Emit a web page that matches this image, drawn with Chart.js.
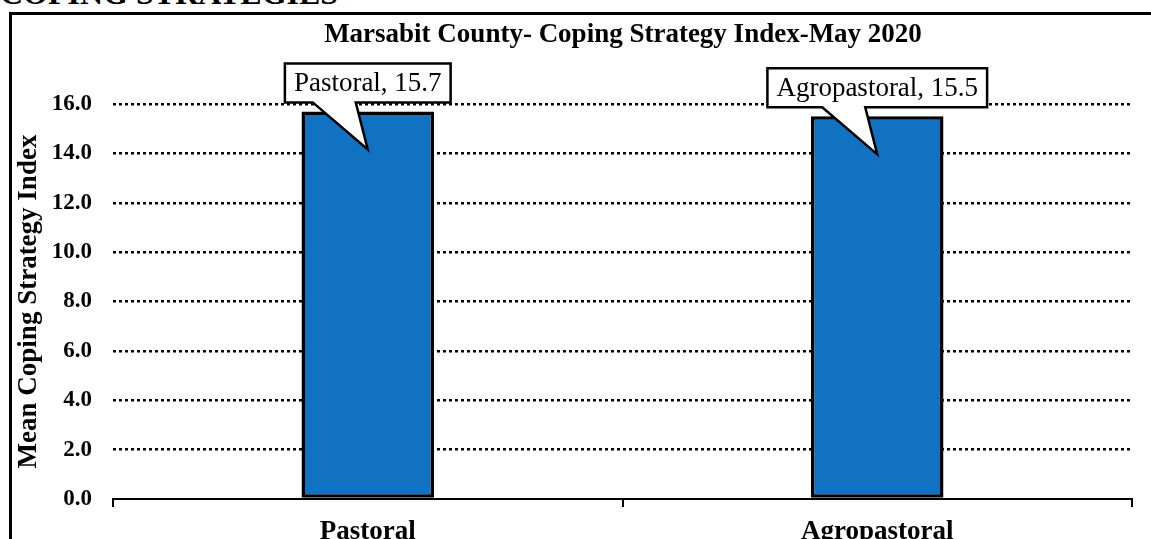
<!DOCTYPE html>
<html>
<head>
<meta charset="utf-8">
<script src="https://cdn.jsdelivr.net/npm/chart.js@4.4.1/dist/chart.umd.min.js"></script>
<style>
  body { margin: 0; background: #fff; overflow: hidden; }
  #heading {
    position: absolute; left: 0; top: -25px; margin: 0;
    font: bold 32px "Liberation Serif", "Times New Roman", serif; color: #000;
  }
  #frame {
    position: absolute; left: 9px; top: 12px; width: 1160px; height: 560px;
    border: 3px solid #000; box-sizing: border-box;
  }
  #wrap { position: absolute; left: 0; top: 0; width: 1151px; height: 539px; }
</style>
</head>
<body>
<div id="heading">COPING STRATEGIES</div>
<div id="frame"></div>
<div id="wrap"><canvas id="chart"></canvas></div>
<script>
const categories = ["Pastoral", "Agropastoral"];
const csiValues = [15.7, 15.5];
const yTicks = [0, 2, 4, 6, 8, 10, 12, 14, 16];

const serif = "'Liberation Serif', 'Times New Roman', serif";

// speech-bubble data labels above each bar
const calloutPlugin = {
  id: "callouts",
  afterDatasetsDraw(chart) {
    const ctx = chart.ctx;
    const meta = chart.getDatasetMeta(0);
    ctx.save();
    ctx.font = "27px " + serif;
    meta.data.forEach((bar, i) => {
      const text = categories[i] + ", " + csiValues[i].toFixed(1);
      const w = ctx.measureText(text).width + 18;
      const h = 39;
      const x = bar.x;
      const bottom = bar.y - 9;
      const left = x - w / 2;
      const top = bottom - h;
      const tipY = bar.y + 38;
      ctx.beginPath();
      ctx.moveTo(left, top);
      ctx.lineTo(left + w, top);
      ctx.lineTo(left + w, bottom);
      ctx.lineTo(x - 12, bottom);
      ctx.lineTo(x, tipY);
      ctx.lineTo(x - 55, bottom);
      ctx.lineTo(left, bottom);
      ctx.closePath();
      ctx.fillStyle = "#fff";
      ctx.fill();
      ctx.lineWidth = 2.5;
      ctx.strokeStyle = "#000";
      ctx.lineJoin = "miter";
      ctx.stroke();
      ctx.fillStyle = "#000";
      ctx.textAlign = "center";
      ctx.textBaseline = "middle";
      ctx.fillText(text, x, top + h / 2 + 1);
    });
    ctx.restore();
  }
};

// chart title drawn at a fixed spot
const titlePlugin = {
  id: "topTitle",
  afterDraw(chart) {
    const ctx = chart.ctx;
    ctx.save();
    ctx.font = "bold 27px " + serif;
    ctx.fillStyle = "#000";
    ctx.textAlign = "center";
    ctx.textBaseline = "middle";
    ctx.fillText("Marsabit County- Coping Strategy Index-May 2020", 623, 35);
    ctx.restore();
  }
};

new Chart(document.getElementById("chart"), {
  type: "bar",
  data: {
    labels: categories,
    datasets: [{
      data: csiValues,
      backgroundColor: "#1072C1",
      borderColor: "#000",
      borderWidth: 3.5,
      borderSkipped: false,
      barPercentage: 0.26,
      categoryPercentage: 1
    }]
  },
  options: {
    responsive: true,
    maintainAspectRatio: false,
    animation: false,
    layout: { padding: { top: 104, right: 19, left: 0, bottom: 0 } },
    plugins: {
      legend: { display: false },
      tooltip: { enabled: false },
      title: { display: false }
    },
    scales: {
      x: {
        afterFit: s => { s.height = 40; },
        border: { display: true, color: "#000", width: 2 },
        grid: { display: true, drawOnChartArea: false, drawTicks: true, tickLength: 8, color: "#000", lineWidth: 2, offset: true },
        ticks: { color: "#000", font: { family: serif, size: 27, weight: "bold" }, padding: 9 }
      },
      y: {
        min: 0,
        max: 16,
        afterFit: s => { s.width = 113; },
        afterBuildTicks: s => { s.ticks = yTicks.map(v => ({ value: v })); },
        border: { display: false, dash: [3, 3] },
        grid: {
          color: c => c.tick.value === 0 ? "rgba(0,0,0,0)" : "#000",
          lineWidth: 2.5,
          drawTicks: false
        },
        ticks: {
          color: "#000",
          padding: 21,
          font: { family: serif, size: 23, weight: "bold" },
          callback: v => Number(v).toFixed(1)
        },
        title: {
          display: true,
          text: "Mean Coping Strategy Index",
          color: "#000",
          font: { family: serif, size: 27, weight: "bold" },
          padding: { top: 13, bottom: 0 }
        }
      }
    }
  },
  plugins: [calloutPlugin, titlePlugin]
});
</script>
</body>
</html>
